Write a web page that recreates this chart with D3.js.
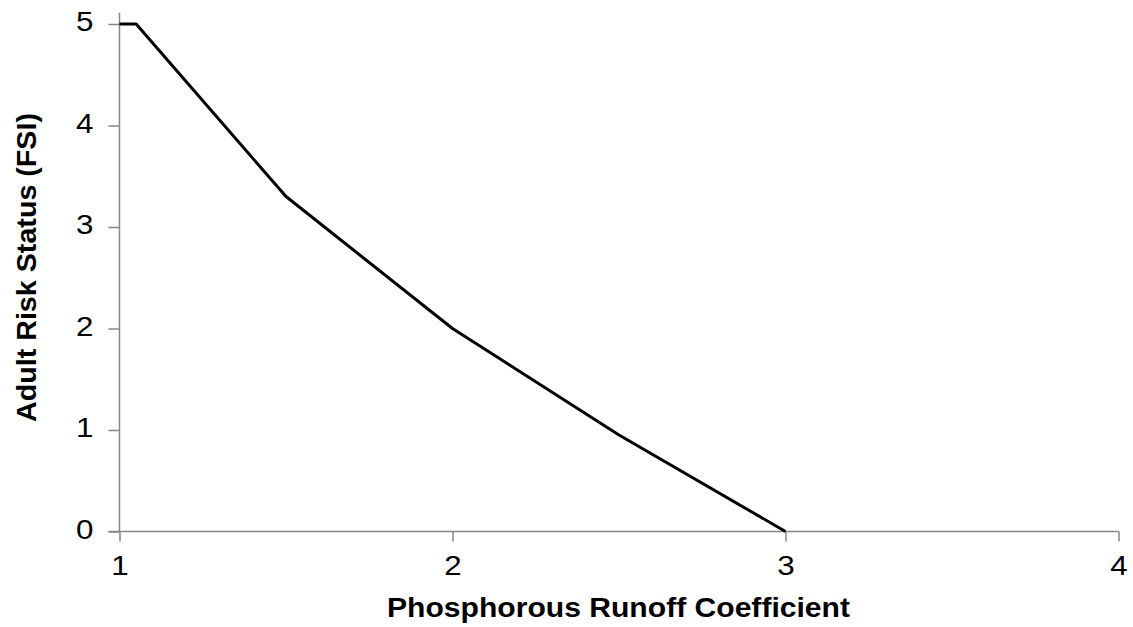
<!DOCTYPE html>
<html>
<head>
<meta charset="utf-8">
<script src="https://cdn.jsdelivr.net/npm/d3@7"></script>
<style>
  html, body { margin: 0; padding: 0; background: #fff; }
  svg { display: block; }
  text { font-family: "Liberation Sans", Arial, sans-serif; fill: #000; }
</style>
</head>
<body>
<svg id="chart" width="1133" height="627"></svg>
<script>
// Risk curve: phosphorous runoff coefficient vs adult risk status
const runoff = [1, 1.05, 1.5, 2, 2.5, 3];
const riskFSI = [5, 5, 3.3, 2, 0.95, 0];
const xTicks = [1, 2, 3, 4];
const yTicks = [0, 1, 2, 3, 4, 5];
const xTitle = "Phosphorous Runoff Coefficient";
const yTitle = "Adult Risk Status (FSI)";

const svg = d3.select("#chart");
const plotLeft = 119.5, plotRight = 1118.5, plotBottom = 531.5, plotTop = 24;

const x = d3.scaleLinear().domain([1, 4]).range([plotLeft, plotRight]);
const y = d3.scaleLinear().domain([0, 5]).range([plotBottom, plotTop]);
const axisColor = "#868686";
const stretch = 1.12;

// y axis
const yAxis = svg.append("g").attr("transform", `translate(${plotLeft},0)`)
  .call(d3.axisLeft(y).tickValues(yTicks).tickSize(11).tickFormat(d3.format("d")));
yAxis.select(".domain").remove();
yAxis.append("line").attr("x1", 0).attr("x2", 0)
  .attr("y1", y(5.11)).attr("y2", plotBottom)
  .attr("stroke", axisColor).attr("stroke-width", 1.5);
yAxis.selectAll(".tick line").attr("stroke", axisColor).attr("stroke-width", 1.5);
yAxis.selectAll(".tick text")
  .style("font-size", "28px")
  .attr("x", -26 / stretch)
  .attr("dy", "0.24em")
  .attr("transform", `scale(${stretch},1)`);

// x axis
const xAxis = svg.append("g").attr("transform", `translate(0,${plotBottom})`)
  .call(d3.axisBottom(x).tickValues(xTicks).tickSize(10).tickFormat(d3.format("d")));
xAxis.select(".domain").remove();
xAxis.append("line").attr("x1", plotLeft - 11).attr("x2", plotRight)
  .attr("y1", 0).attr("y2", 0)
  .attr("stroke", axisColor).attr("stroke-width", 1.5);
xAxis.selectAll(".tick line").attr("stroke", axisColor).attr("stroke-width", 1.5);
xAxis.selectAll(".tick text")
  .style("font-size", "28px")
  .attr("y", 43.5).attr("dy", null)
  .attr("transform", `scale(${stretch},1)`);

// data line
const pts = runoff.map((v, i) => [v, riskFSI[i]]);
svg.append("path")
  .datum(pts)
  .attr("fill", "none")
  .attr("stroke", "#000")
  .attr("stroke-width", 3)
  .attr("stroke-linejoin", "round")
  .attr("d", d3.line().x(d => x(d[0])).y(d => y(d[1])));

// axis titles
svg.append("text")
  .attr("x", 618.5).attr("y", 617)
  .attr("text-anchor", "middle")
  .attr("textLength", 463).attr("lengthAdjust", "spacingAndGlyphs")
  .style("font-size", "27px").style("font-weight", "bold")
  .text(xTitle);

svg.append("text")
  .attr("transform", `translate(36,267.5) rotate(-90)`)
  .attr("text-anchor", "middle")
  .attr("textLength", 309).attr("lengthAdjust", "spacingAndGlyphs")
  .style("font-size", "27px").style("font-weight", "bold")
  .text(yTitle);
</script>
</body>
</html>
